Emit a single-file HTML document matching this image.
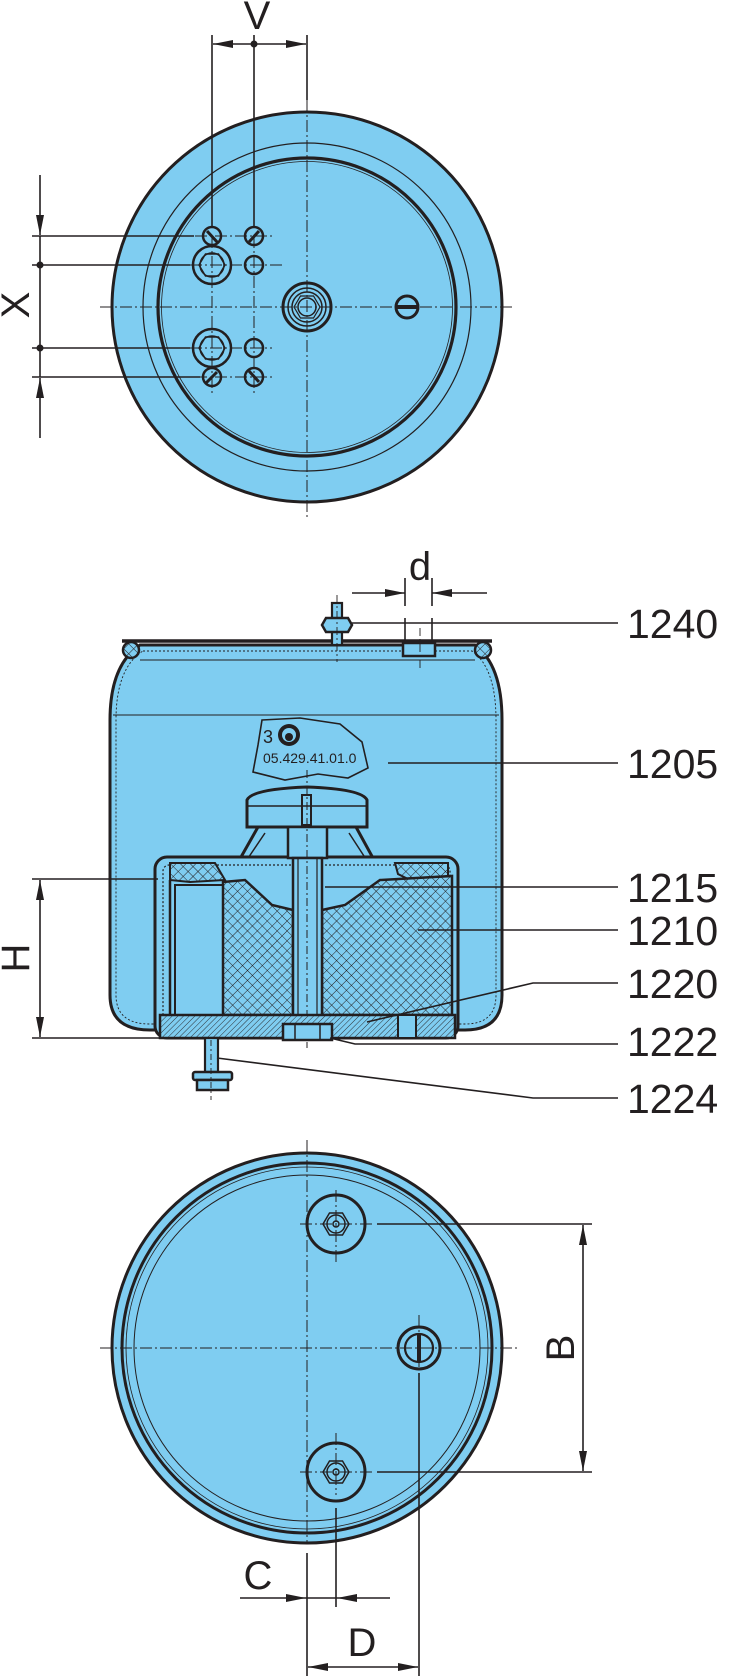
<!DOCTYPE html>
<html><head><meta charset="utf-8"><style>
html,body{margin:0;padding:0;background:#fff}
svg{display:block}
text{font-family:"Liberation Sans",Arial,sans-serif;fill:#231f20}
</style></head><body>
<svg width="741" height="1676" viewBox="0 0 741 1676" xmlns="http://www.w3.org/2000/svg">
<defs>
<marker id="ar" viewBox="0 0 20 8" refX="20" refY="4" markerWidth="20" markerHeight="8" markerUnits="userSpaceOnUse" orient="auto"><path d="M0,0 L20,4 L0,8 z" fill="#231f20"/></marker>
<pattern id="xh" width="7" height="7" patternUnits="userSpaceOnUse" patternTransform="rotate(45)"><rect width="7" height="7" fill="#7fcdf1"/><path d="M0,0 V7 M0,0 H7" stroke="#231f20" stroke-width="1"/></pattern>
<pattern id="dh" width="4" height="4" patternUnits="userSpaceOnUse" patternTransform="rotate(45)"><rect width="4" height="4" fill="#7fcdf1"/><path d="M0,0 V4" stroke="#231f20" stroke-width="0.9"/></pattern>
</defs>
<g stroke="#231f20" fill="none">

<!-- ================= TOP VIEW ================= -->
<circle cx="307" cy="307" r="195" fill="#7fcdf1" stroke-width="3"/>
<circle cx="307" cy="307" r="164" stroke-width="1.2"/>
<circle cx="307" cy="307" r="149" stroke-width="3.2"/>
<circle cx="307" cy="307" r="145.5" stroke-width="0.8"/>
<g stroke-width="1" stroke-dasharray="12 3 2 3">
<line x1="100" y1="307" x2="515" y2="307"/>
<line x1="307" y1="100" x2="307" y2="520"/>
<line x1="195" y1="236" x2="272" y2="236"/>
<line x1="190" y1="265" x2="282" y2="265"/>
<line x1="190" y1="348" x2="272" y2="348"/>
<line x1="195" y1="377" x2="274" y2="377"/>
<line x1="212" y1="236" x2="212" y2="395"/>
<line x1="254" y1="236" x2="254" y2="395"/>
</g>
<g stroke-width="2.5">
<circle cx="212" cy="236" r="9"/><circle cx="254" cy="236" r="9"/>
<circle cx="212" cy="377" r="9"/><circle cx="254" cy="377" r="9"/>
<circle cx="254" cy="265" r="9"/><circle cx="254" cy="348" r="9"/>
<circle cx="212" cy="265" r="19"/><circle cx="212" cy="348" r="19"/>
</g>
<g stroke-width="3"><line x1="207" y1="231" x2="218" y2="243"/><line x1="249" y1="242" x2="259" y2="231"/>
<line x1="206" y1="383" x2="217" y2="372"/><line x1="249" y1="371" x2="259" y2="382"/></g>
<g stroke-width="1.5">
<polygon points="199,265 205.5,254 218.5,254 225,265 218.5,276 205.5,276"/>
<polygon points="199,348 205.5,337 218.5,337 225,348 218.5,359 205.5,359"/>
<circle cx="212" cy="265" r="12"/><circle cx="212" cy="348" r="12"/>
</g>
<circle cx="307" cy="307" r="24" stroke-width="3"/>
<circle cx="307" cy="307" r="19" stroke-width="1.5"/>
<circle cx="307" cy="307" r="15" stroke-width="1.5"/>
<polygon points="294,307 300.5,296 313.5,296 320,307 313.5,318 300.5,318" stroke-width="1.2"/>
<circle cx="307" cy="307" r="9" stroke-width="1.5"/>
<circle cx="407" cy="307" r="11" stroke-width="3"/>
<line x1="396" y1="307" x2="418" y2="307" stroke-width="4"/>
<!-- V dim -->
<g stroke-width="1.6">
<line x1="212" y1="35" x2="212" y2="228"/>
<line x1="254" y1="35" x2="254" y2="227"/>
<line x1="307" y1="35" x2="307" y2="100"/>
<line x1="254" y1="44" x2="213" y2="44" marker-end="url(#ar)"/>
<line x1="254" y1="44" x2="306" y2="44" marker-end="url(#ar)"/>
</g>
<circle cx="254" cy="44" r="3.5" fill="#231f20" stroke="none"/>
<!-- X dim -->
<g stroke-width="1.6">
<line x1="32" y1="236" x2="194" y2="236"/>
<line x1="32" y1="265" x2="190" y2="265"/>
<line x1="32" y1="348" x2="190" y2="348"/>
<line x1="32" y1="377" x2="200" y2="377"/>
<line x1="40" y1="175" x2="40" y2="235" marker-end="url(#ar)"/>
<line x1="40" y1="438" x2="40" y2="378" marker-end="url(#ar)"/>
<line x1="40" y1="236" x2="40" y2="377"/>
</g>
<circle cx="40" cy="265" r="3.5" fill="#231f20" stroke="none"/>
<circle cx="40" cy="348" r="3.5" fill="#231f20" stroke="none"/>

<!-- ================= SIDE VIEW ================= -->
<path d="M140,645 L475,645 Q502,665 502,720 L502,995 Q502,1030 465,1030 L150,1030 Q110,1030 110,995 L110,720 Q110,665 140,645 Z" fill="#7fcdf1" stroke-width="3"/>
<path d="M143,651 L472,651 Q496,668 496,720 L496,995 Q496,1024 465,1024 L150,1024 Q116,1024 116,995 L116,720 Q116,668 143,651 Z" stroke-width="0.9" stroke-dasharray="2 2"/>
<line x1="122" y1="641" x2="492" y2="641" stroke-width="3.5"/>
<line x1="140" y1="660" x2="475" y2="660" stroke-width="1"/>
<line x1="113" y1="715" x2="499" y2="715" stroke-width="1"/>
<circle cx="131" cy="650" r="8" fill="url(#xh)" stroke-width="2.5"/>
<circle cx="483" cy="650" r="8" fill="url(#xh)" stroke-width="2.5"/>
<!-- top bolt 1240 -->
<rect x="332" y="603" width="10" height="42" fill="#7fcdf1" stroke-width="2.2"/>
<polygon points="322,625 326,618 348,618 352,625 348,632 326,632" fill="#7fcdf1" stroke-width="2.5"/>
<line x1="337" y1="595" x2="337" y2="662" stroke-width="0.9" stroke-dasharray="8 3 2 3"/>
<!-- port -->
<rect x="403" y="643" width="32" height="13" fill="#7fcdf1" stroke-width="2.5"/>
<line x1="420" y1="628" x2="420" y2="670" stroke-width="0.9" stroke-dasharray="8 3 2 3"/>
<!-- d dim -->
<g stroke-width="1.6">
<line x1="405" y1="578" x2="405" y2="606"/><line x1="432" y1="578" x2="432" y2="606"/>
<line x1="405" y1="618" x2="405" y2="643"/><line x1="432" y1="618" x2="432" y2="643"/>
<line x1="352" y1="593" x2="405" y2="593" marker-end="url(#ar)"/>
<line x1="487" y1="593" x2="432" y2="593" marker-end="url(#ar)"/>
</g>
<!-- badge -->
<polygon points="262,720 300,718 340,724 362,742 368,768 348,778 318,774 285,780 253,772 258,745" fill="#7fcdf1" stroke-width="1.6"/>
<circle cx="289" cy="735" r="11" fill="#231f20" stroke="none"/>
<circle cx="289" cy="735" r="7" fill="#7fcdf1" stroke="none"/>
<circle cx="289" cy="737" r="4" fill="#231f20" stroke="none"/>
<!-- cone -->
<polygon points="258,827 356,827 385,880 228,880" fill="#7fcdf1" stroke-width="3"/>
<polyline points="265,833 236,876" stroke-width="1.5"/><polyline points="349,833 377,876" stroke-width="1.5"/>
<!-- cap -->
<path d="M247,827 L247,800 Q252,789 307,787 Q362,789 367,800 L367,827 Z" fill="#7fcdf1" stroke-width="3"/>
<line x1="247" y1="806" x2="367" y2="806" stroke-width="1.5"/>
<rect x="302" y="795" width="9" height="30" stroke-width="2"/>
<!-- cup -->
<rect x="155" y="857" width="303" height="181" rx="12" fill="#7fcdf1" stroke-width="3"/>
<rect x="163" y="865" width="287" height="155" rx="6" stroke-width="1.2" stroke-dasharray="2 2"/>
<polygon points="170,863 215,863 225,880 190,882 170,880" fill="url(#xh)" stroke-width="2"/>
<polygon points="395,863 448,863 448,880 410,880 398,874" fill="url(#xh)" stroke-width="2"/>
<line x1="170" y1="880" x2="170" y2="1015" stroke-width="2.5"/>
<rect x="175" y="885" width="48" height="130" fill="#7fcdf1" stroke-width="2"/>
<polygon points="223,882 245,880 272,905 293,910 293,1015 223,1015" fill="url(#xh)" stroke-width="2.5"/>
<polygon points="322,910 345,905 380,880 452,876 452,1015 322,1015" fill="url(#xh)" stroke-width="2.5"/>
<!-- stem & bolt -->
<rect x="288" y="827" width="39" height="31" fill="#7fcdf1" stroke-width="2.5"/>
<rect x="293" y="858" width="29" height="160" fill="#7fcdf1" stroke-width="2.5"/>
<rect x="298" y="858" width="19" height="160" stroke-width="1.2"/>
<line x1="307" y1="770" x2="307" y2="1048" stroke-width="1" stroke-dasharray="8 3 2 3"/>
<!-- bottom plate -->
<rect x="160" y="1015" width="295" height="23" fill="url(#dh)" stroke-width="2.5"/>
<rect x="398" y="1015" width="18" height="23" fill="#7fcdf1" stroke-width="2"/>
<rect x="283" y="1024" width="49" height="16" fill="#7fcdf1" stroke-width="2.5"/>
<line x1="295" y1="1024" x2="295" y2="1040" stroke-width="1.5"/><line x1="320" y1="1024" x2="320" y2="1040" stroke-width="1.5"/>
<!-- stud 1224 -->
<rect x="205" y="1038" width="13" height="34" fill="#7fcdf1" stroke-width="2.2"/>
<rect x="193" y="1072" width="39" height="8" rx="2" fill="#7fcdf1" stroke-width="2.5"/>
<rect x="197" y="1080" width="31" height="10" fill="#7fcdf1" stroke-width="2.5"/>
<line x1="211" y1="1040" x2="211" y2="1100" stroke-width="0.9" stroke-dasharray="6 3 2 3"/>
<!-- H dim -->
<g stroke-width="1.6">
<line x1="32" y1="879" x2="158" y2="879"/>
<line x1="32" y1="1038" x2="160" y2="1038"/>
<line x1="40" y1="958" x2="40" y2="880" marker-end="url(#ar)"/>
<line x1="40" y1="958" x2="40" y2="1037" marker-end="url(#ar)"/>
</g>
<!-- leaders -->
<g stroke-width="1.6">
<line x1="352" y1="623" x2="618" y2="623"/>
<line x1="388" y1="763" x2="618" y2="763"/>
<line x1="325" y1="887" x2="618" y2="887"/>
<line x1="418" y1="930" x2="618" y2="930"/>
<polyline points="367,1022 533,983 618,983"/>
<polyline points="330,1038 355,1044 618,1044"/>
<polyline points="217,1058 533,1098 618,1098"/>
</g>

<!-- ================= BOTTOM VIEW ================= -->
<circle cx="307" cy="1348" r="195" fill="#7fcdf1" stroke-width="3"/>
<circle cx="307" cy="1348" r="185" stroke-width="3"/>
<circle cx="307" cy="1348" r="181" stroke-width="0.8"/>
<circle cx="307" cy="1348" r="173" stroke-width="1"/>
<g stroke-width="1" stroke-dasharray="12 3 2 3">
<line x1="100" y1="1348" x2="518" y2="1348"/>
<line x1="307" y1="1140" x2="307" y2="1543"/>
<line x1="336" y1="1190" x2="336" y2="1262"/>
<line x1="336" y1="1433" x2="336" y2="1495"/>
<line x1="300" y1="1224" x2="372" y2="1224"/>
<line x1="300" y1="1472" x2="372" y2="1472"/>
<line x1="419" y1="1315" x2="419" y2="1370"/>
</g>
<circle cx="336" cy="1224" r="29" stroke-width="3"/>
<circle cx="336" cy="1472" r="29" stroke-width="3"/>
<g stroke-width="1.5">
<polygon points="323,1224 329.5,1213 342.5,1213 349,1224 342.5,1235 329.5,1235"/>
<polygon points="323,1472 329.5,1461 342.5,1461 349,1472 342.5,1483 329.5,1483"/>
<circle cx="336" cy="1224" r="9"/><circle cx="336" cy="1472" r="9"/>
<circle cx="336" cy="1224" r="3"/><circle cx="336" cy="1472" r="3"/>
</g>
<circle cx="419" cy="1348" r="21" stroke-width="3"/>
<circle cx="419" cy="1348" r="14" stroke-width="2.2"/>
<line x1="419" y1="1334" x2="419" y2="1362" stroke-width="4"/>
<!-- B dim -->
<g stroke-width="1.6">
<line x1="377" y1="1224" x2="592" y2="1224"/>
<line x1="377" y1="1472" x2="592" y2="1472"/>
<line x1="583" y1="1348" x2="583" y2="1225" marker-end="url(#ar)"/>
<line x1="583" y1="1348" x2="583" y2="1471" marker-end="url(#ar)"/>
<!-- C dim -->
<line x1="307" y1="1553" x2="307" y2="1676"/>
<line x1="336" y1="1508" x2="336" y2="1607"/>
<line x1="240" y1="1598" x2="306" y2="1598" marker-end="url(#ar)"/>
<line x1="390" y1="1598" x2="337" y2="1598" marker-end="url(#ar)"/>
<line x1="306" y1="1598" x2="337" y2="1598"/>
<!-- D dim -->
<line x1="419" y1="1373" x2="419" y2="1676"/>
<line x1="362" y1="1667" x2="308" y2="1667" marker-end="url(#ar)"/>
<line x1="362" y1="1667" x2="418" y2="1667" marker-end="url(#ar)"/>
</g>
</g>

<!-- text -->
<text x="257" y="29" font-size="40" text-anchor="middle">V</text>
<text transform="translate(29,305) rotate(-90)" font-size="40" text-anchor="middle">X</text>
<text x="420" y="580" font-size="40" text-anchor="middle">d</text>
<text transform="translate(29,958) rotate(-90)" font-size="40" text-anchor="middle">H</text>
<text transform="translate(574,1348) rotate(-90)" font-size="40" text-anchor="middle">B</text>
<text x="258" y="1589" font-size="40" text-anchor="middle">C</text>
<text x="362" y="1656" font-size="40" text-anchor="middle">D</text>
<text x="268" y="743" font-size="18" text-anchor="middle">3</text>
<text x="263" y="763" font-size="14">05.429.41.01.0</text>
<g font-size="41">
<text x="627" y="638">1240</text>
<text x="627" y="778">1205</text>
<text x="627" y="902">1215</text>
<text x="627" y="945">1210</text>
<text x="627" y="998">1220</text>
<text x="627" y="1056">1222</text>
<text x="627" y="1113">1224</text>
</g>
</svg>
</body></html>
